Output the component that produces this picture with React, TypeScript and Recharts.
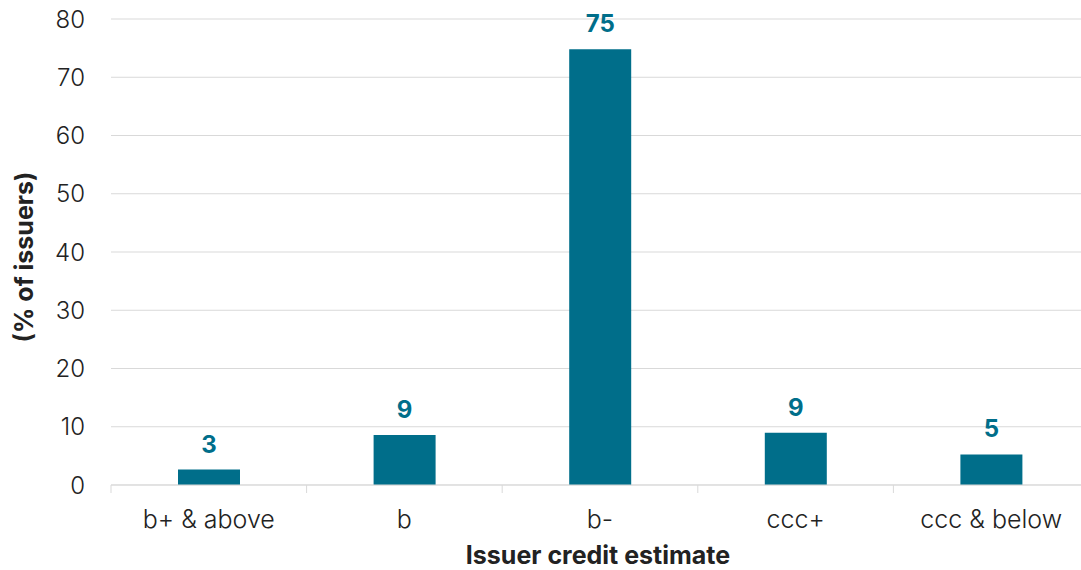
import { BarChart, Bar, XAxis, YAxis, CartesianGrid, LabelList, Label } from 'recharts'

const categories = ['b+ & above', 'b', 'b-', 'ccc+', 'ccc & below']
const shares = [2.65, 8.6, 74.8, 8.95, 5.25]
const shareLabels = ['3', '9', '75', '9', '5']
const yTicks = [0, 10, 20, 30, 40, 50, 60, 70, 80]

const BAR = '#006e8a'
const GRID = '#d9d9d9'
const FONT = 'Inter, "Noto Sans", sans-serif'

const data = categories.map((c, i) => ({ name: c, value: shares[i], label: shareLabels[i] }))

function CategoryTick(props: any) {
  const { x, y, payload } = props
  const half = payload?.offset ?? 97.8
  return (
    <g>
      <line x1={x - half} x2={x - half} y1={y} y2={y + 8} stroke={GRID} strokeWidth={1} />
      <text
        x={x}
        y={y + 34}
        textAnchor="middle"
        dominantBaseline="central"
        fontSize={25}
        fontWeight={300}
        fill="#222"
        fontFamily={FONT}
      >
        {payload.value}
      </text>
    </g>
  )
}

export default function App() {
  return (
    <div style={{ position: 'absolute', left: 0, top: 0, width: 1081, height: 570, overflow: 'hidden', background: '#fff' }}>
      <BarChart
        width={1090}
        height={570}
        data={data}
        margin={{ top: 19, right: 1, left: 0, bottom: 0 }}
        barSize={62}
      >
        <CartesianGrid vertical={false} stroke={GRID} />
        <XAxis
          dataKey="name"
          height={85}
          axisLine={{ stroke: GRID }}
          tickLine={false}
          tickSize={0}
          tickMargin={0}
          tick={<CategoryTick />}
          interval={0}
        >
          <Label
            content={({ viewBox }: any) => (
              <text
                x={viewBox.x + viewBox.width / 2 - 2}
                y={555}
                textAnchor="middle"
                dominantBaseline="central"
                fontSize={25}
                fontWeight={700}
                fill="#222"
                fontFamily={FONT}
              >
                Issuer credit estimate
              </text>
            )}
          />
        </XAxis>
        <YAxis
          width={111}
          domain={[0, 80]}
          ticks={yTicks}
          axisLine={false}
          tickLine={false}
          tickSize={6}
          tickMargin={20}
          tick={{ fontSize: 24, fontWeight: 300, fill: '#222', fontFamily: FONT }}
        >
          <Label
            content={({ viewBox }: any) => (
              <text
                x={24}
                y={viewBox.y + viewBox.height / 2 + 5}
                transform={`rotate(-90, 24, ${viewBox.y + viewBox.height / 2 + 5})`}
                textAnchor="middle"
                dominantBaseline="central"
                fontSize={25}
                fontWeight={700}
                fill="#222"
                fontFamily={FONT}
              >
                (% of issuers)
              </text>
            )}
          />
        </YAxis>
        <Bar dataKey="value" fill={BAR} isAnimationActive={false}>
          <LabelList
            dataKey="label"
            position="top"
            offset={17}
            fill={BAR}
            fontSize={24}
            fontWeight={700}
            fontFamily={FONT}
          />
        </Bar>
      </BarChart>
    </div>
  )
}
